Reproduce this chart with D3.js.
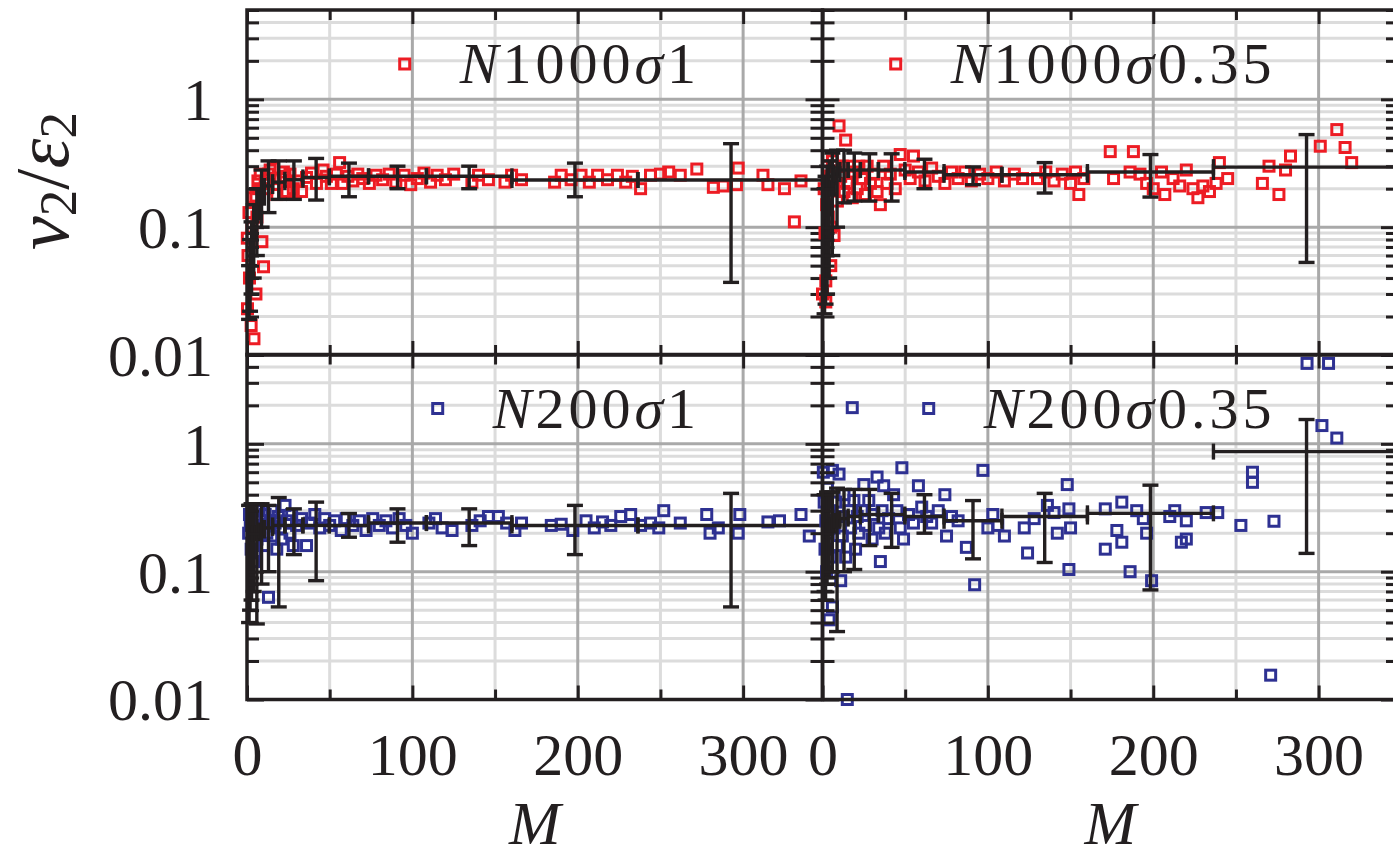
<!DOCTYPE html>
<html>
<head>
<meta charset="utf-8">
<script src="https://cdn.jsdelivr.net/npm/d3@7/dist/d3.min.js"></script>
<style>
  body { margin: 0; background: #fff; }
  svg { display: block; }
  text { font-family: "Liberation Serif", "Times New Roman", serif; fill: #231f20; }
</style>
</head>
<body>
<svg id="chart" width="1393" height="858"></svg>
<script>
// bin edges in M shared by all four panels
const binEdges = [1.0, 1.5, 2.2, 3.3, 4.8, 7.1, 10.5, 15.5, 22.9, 33.8, 49.8, 73.5, 108.5, 160.2, 236.4, 349];

// binned means and error limits, one value per bin
const meanN1000s1 = [0.03, 0.045, 0.065, 0.09, 0.13, 0.17, 0.21, 0.225, 0.235, 0.245, 0.25, 0.25, 0.25, 0.234, 0.234];
const loN1000s1   = [0.019, 0.022, 0.03, 0.04, 0.06, 0.1, 0.13, 0.165, 0.165, 0.163, 0.173, 0.2, 0.2, 0.173, 0.037];
const hiN1000s1   = [0.05, 0.08, 0.11, 0.15, 0.2, 0.28, 0.33, 0.33, 0.33, 0.345, 0.317, 0.3, 0.3, 0.317, 0.45];

const meanN1000s035 = [0.06, 0.08, 0.1, 0.14, 0.2, 0.26, 0.28, 0.28, 0.28, 0.28, 0.27, 0.257, 0.257, 0.27, 0.295];
const loN1000s035   = [0.021, 0.025, 0.03, 0.04, 0.06, 0.1, 0.155, 0.16, 0.16, 0.16, 0.2, 0.215, 0.185, 0.172, 0.053];
const hiN1000s035   = [0.2, 0.25, 0.3, 0.33, 0.38, 0.4, 0.4, 0.38, 0.375, 0.375, 0.34, 0.296, 0.32, 0.37, 0.53];

const meanN200s1 = [0.17, 0.18, 0.19, 0.2, 0.2, 0.21, 0.22, 0.23, 0.23, 0.23, 0.23, 0.24, 0.24, 0.23, 0.23];
const loN200s1   = [0.04, 0.05, 0.06, 0.07, 0.039, 0.08, 0.1, 0.053, 0.136, 0.085, 0.186, 0.17, 0.16, 0.136, 0.053];
const hiN200s1   = [0.33, 0.33, 0.34, 0.34, 0.34, 0.34, 0.33, 0.38, 0.31, 0.35, 0.285, 0.31, 0.31, 0.33, 0.41];

const meanN200s035 = [0.2, 0.2, 0.21, 0.22, 0.23, 0.25, 0.26, 0.27, 0.28, 0.28, 0.27, 0.25, 0.27, 0.286, 0.87];
const loN200s035   = [0.07, 0.06, 0.08, 0.09, 0.1, 0.034, 0.1, 0.104, 0.16, 0.155, 0.2, 0.126, 0.118, 0.072, 0.139];
const hiN200s035   = [0.4, 0.4, 0.42, 0.42, 0.42, 0.45, 0.44, 0.44, 0.44, 0.41, 0.4, 0.36, 0.41, 0.475, 1.55];

// individual events [M, v2/eps2]
const ptsN1000s1 = [
  [0.2,0.082],[0.3,0.023],[0.6,0.06],[1.2,0.13],[1.5,0.04],[2.5,0.017],[3,0.1],[3.6,0.17],[4.2,0.0134],[5.4,0.03],
  [5.4,0.175],[6,0.12],[6.6,0.23],[7,0.2],[8,0.26],[9,0.077],[10,0.049],[11,0.22],[12,0.2],[13,0.26],[14,0.28],
  [16,0.29],[17,0.24],[18,0.18],[20,0.24],[22,0.27],[23,0.25],[24,0.19],[26,0.26],[28,0.2],[30,0.23],[33,0.19],
  [36,0.245],[39,0.265],[42,0.22],[46,0.28],[48,0.25],[51,0.22],[54,0.26],[56,0.32],[58,0.22],[61,0.25],[64,0.23],
  [67,0.26],[70,0.24],[74,0.22],[78,0.255],[82,0.235],[86,0.26],[90,0.225],[95,0.255],[99,0.215],[103,0.24],
  [107,0.265],[111,0.225],[115,0.255],[120,0.235],[125,0.26],[136,0.225],[140,0.255],[146,0.235],[156,0.225],
  [160,0.255],[166,0.235],[186,0.225],[190,0.255],[196,0.235],[202,0.255],[207,0.225],[212,0.255],[218,0.235],
  [224,0.255],[229,0.225],[233,0.25],[238,0.2],[244,0.255],[250,0.26],[255,0.27],[262,0.255],[272,0.285],
  [282,0.205],[288,0.21],[297,0.29],[296,0.215],[312,0.255],[315,0.215],[325,0.2],[335,0.23],[331,0.11]
];
const ptsN1000s035 = [
  [0,0.03],[1,0.2],[1.5,0.09],[2,0.038],[2,0.026],[2.5,0.15],[3,0.3],[3.5,0.12],[4,0.25],[5,0.1],[5,0.05],
  [6,0.33],[7,0.086],[7,0.2],[8,0.3],[9,0.16],[10,0.62],[11,0.25],[12,0.3],[13,0.19],[14,0.48],[15,0.22],
  [16,0.3],[18,0.17],[19,0.27],[21,0.2],[22,0.3],[24,0.24],[26,0.18],[27,0.3],[29,0.22],[31,0.26],[33,0.19],
  [35,0.15],[37,0.3],[39,0.22],[41,0.26],[44,0.2],[47,0.37],[50,0.28],[53,0.24],[55,0.36],[58,0.27],[62,0.23],
  [66,0.29],[70,0.25],[74,0.22],[78,0.27],[82,0.24],[86,0.27],[90,0.23],[95,0.26],[100,0.24],[105,0.27],
  [110,0.23],[116,0.26],[121,0.24],[130,0.24],[135,0.27],[140,0.23],[145,0.26],[150,0.22],[153,0.27],[155,0.18],
  [158,0.24],[174,0.39],[176,0.24],[186,0.27],[188,0.39],[192,0.26],[196,0.22],[200,0.2],[205,0.27],[207,0.18],
  [212,0.24],[216,0.21],[220,0.28],[224,0.2],[227,0.17],[230,0.21],[234,0.19],[238,0.22],[240,0.32],[245,0.24],
  [266,0.22],[270,0.3],[276,0.18],[280,0.28],[283,0.36],[301,0.43],[311,0.58],[316,0.42],[320,0.32]
];
const ptsN200s1 = [
  [1,0.2],[1.5,0.28],[2,0.23],[2.5,0.15],[3,0.3],[3.6,0.23],[4,0.12],[5,0.14],[5,0.26],[6,0.18],[7,0.3],[8,0.21],
  [9,0.25],[10,0.16],[11,0.28],[12,0.2],[13,0.063],[14,0.25],[15,0.3],[16,0.19],[17,0.24],[18,0.15],[19,0.27],
  [20,0.22],[21,0.18],[23,0.33],[24,0.25],[26,0.2],[27,0.28],[28,0.16],[30,0.23],[33,0.26],[36,0.16],[38,0.24],
  [41,0.28],[44,0.22],[47,0.26],[50,0.23],[53,0.25],[57,0.21],[60,0.26],[64,0.23],[68,0.25],[72,0.21],[76,0.26],
  [80,0.23],[84,0.25],[88,0.22],[92,0.26],[96,0.23],[100,0.2],[110,0.24],[114,0.26],[118,0.22],[124,0.21],
  [136,0.23],[141,0.25],[146,0.27],[152,0.27],[157,0.24],[162,0.21],[166,0.24],[184,0.23],[190,0.235],[197,0.21],
  [205,0.25],[210,0.22],[215,0.245],[220,0.23],[226,0.27],[232,0.28],[238,0.23],[244,0.24],[249,0.22],[252,0.3],
  [262,0.24],[278,0.28],[280,0.2],[285,0.22],[298,0.28],[297,0.2],[315,0.245],[322,0.25],[335,0.28],[340,0.19]
];
const ptsN200s035 = [
  [0.5,0.6],[1,0.35],[1.5,0.15],[2,0.25],[2.5,0.1],[3,0.45],[3.5,0.2],[4,0.042],[4.5,0.3],[5,0.13],[6,0.053],
  [6,0.62],[7,0.22],[8,0.35],[9,0.16],[10,0.58],[11,0.085],[11,0.27],[12,0.19],[13,0.4],[14,0.13],[15,0.01],
  [16,0.3],[17,0.22],[18,1.92],[19,0.36],[20,0.15],[21,0.27],[22,0.2],[24,0.3],[25,0.48],[26,0.23],[28,0.36],
  [30,0.18],[31,0.28],[33,0.55],[34,0.22],[35,0.12],[36,0.3],[37,0.47],[38,0.2],[40,0.26],[43,0.4],[45,0.3],
  [47,0.22],[48,0.65],[49,0.18],[52,0.28],[55,0.24],[58,0.47],[60,0.32],[63,0.27],[66,0.24],[70,0.3],[74,0.4],
  [75,0.19],[78,0.27],[82,0.25],[87,0.155],[92,0.079],[97,0.62],[100,0.22],[103,0.28],[106,0.23],[110,0.19],
  [122,0.22],[124,0.14],[128,0.26],[136,0.33],[140,0.29],[142,0.2],[148,0.48],[149,0.31],[150,0.22],[149,0.104],
  [171,0.31],[171,0.15],[178,0.21],[181,0.35],[181,0.17],[186,0.1],[190,0.3],[194,0.26],[196,0.2],[199,0.085],
  [210,0.27],[213,0.3],[217,0.17],[220,0.25],[220,0.18],[232,0.29],[239,0.29],[253,0.23],[260,0.6],[260,0.5],
  [271,0.0155],[273,0.248],[293,4.26],[306,4.26],[302,1.39],[311,1.11]
];

// ticks
const xMajor = [0, 100, 200, 300];
const xMinor = [50, 150, 250];
const yMajor = [0.01, 0.1, 1];
const yMinor = [0.02, 0.03, 0.04, 0.05, 0.06, 0.07, 0.08, 0.09, 0.2, 0.3, 0.4, 0.5, 0.6, 0.7, 0.8, 0.9, 2, 3, 4, 5];
const yTickLabels = ['0.01', '0.1', '1'];

const red = '#ed1c24', blue = '#2e3192', ink = '#231f20';
const gridLight = '#dcdcdc', gridDark = '#a9a9a9';

const panels = [
  { col: 0, row: 0, label: [['N', true], ['1000', false], ['σ', true], ['1', false]], color: red,
    pts: ptsN1000s1, mean: meanN1000s1, lo: loN1000s1, hi: hiN1000s1 },
  { col: 1, row: 0, label: [['N', true], ['1000', false], ['σ', true], ['0.35', false]], color: red,
    pts: ptsN1000s035, mean: meanN1000s035, lo: loN1000s035, hi: hiN1000s035 },
  { col: 0, row: 1, label: [['N', true], ['200', false], ['σ', true], ['1', false]], color: blue,
    pts: ptsN200s1, mean: meanN200s1, lo: loN200s1, hi: hiN200s1 },
  { col: 1, row: 1, label: [['N', true], ['200', false], ['σ', true], ['0.35', false]], color: blue,
    pts: ptsN200s035, mean: meanN200s035, lo: loN200s035, hi: hiN200s035 }
];

const colLeft = [247, 822.5], panelW = 575.5;
const rowTop = [10, 354.5], panelH = 345;
const box = 10;

const svg = d3.select('#chart');

function styleTicks(sel) {
  sel.select('.domain').remove();
  sel.selectAll('.tick line').attr('stroke', ink).attr('stroke-width', 3);
}

panels.forEach(p => {
  const x0 = colLeft[p.col], y0 = rowTop[p.row];
  const x = d3.scaleLinear().domain([0, 348]).range([x0, x0 + panelW]);
  const y = d3.scaleLog().domain([0.01, 5]).range([y0 + panelH, y0]);
  const g = svg.append('g');

  // grid
  const grid = g.append('g').attr('stroke-width', 3);
  grid.selectAll('.vl').data(xMinor).join('line')
    .attr('x1', d => x(d)).attr('x2', d => x(d)).attr('y1', y0).attr('y2', y0 + panelH).attr('stroke', gridLight);
  grid.selectAll('.hl').data(yMinor.filter(d => d < 5)).join('line').attr('class', 'hl')
    .attr('x1', x0).attr('x2', x0 + panelW).attr('y1', d => y(d)).attr('y2', d => y(d)).attr('stroke', gridLight);
  grid.selectAll('.vd').data(xMajor.slice(1)).join('line').attr('class', 'vd')
    .attr('x1', d => x(d)).attr('x2', d => x(d)).attr('y1', y0).attr('y2', y0 + panelH).attr('stroke', gridDark);
  grid.selectAll('.hd').data(yMajor.slice(1)).join('line').attr('class', 'hd')
    .attr('x1', x0).attr('x2', x0 + panelW).attr('y1', d => y(d)).attr('y2', d => y(d)).attr('stroke', gridDark);

  // events
  g.append('g').selectAll('rect').data(p.pts).join('rect')
    .attr('x', d => x(d[0]) - box / 2).attr('y', d => y(d[1]) - box / 2)
    .attr('width', box).attr('height', box)
    .attr('fill', 'none').attr('stroke', p.color).attr('stroke-width', 3);

  // binned averages with x and y error bars
  const bins = p.mean.map((m, i) => ({
    xl: binEdges[i], xr: binEdges[i + 1], xc: (binEdges[i] + binEdges[i + 1]) / 2,
    m: m, lo: p.lo[i], hi: p.hi[i]
  }));
  const eb = g.append('g').attr('stroke', ink).attr('stroke-width', 3.4).attr('fill', 'none');
  const cap = 8;
  const bg = eb.selectAll('g').data(bins).join('g');
  bg.append('line').attr('x1', d => x(d.xl)).attr('x2', d => x(d.xr)).attr('y1', d => y(d.m)).attr('y2', d => y(d.m));
  bg.append('line').attr('x1', d => x(d.xl)).attr('x2', d => x(d.xl)).attr('y1', d => y(d.m) - cap).attr('y2', d => y(d.m) + cap);
  bg.append('line').attr('x1', d => x(d.xr)).attr('x2', d => x(d.xr)).attr('y1', d => y(d.m) - cap).attr('y2', d => y(d.m) + cap);
  bg.append('line').attr('x1', d => x(d.xc)).attr('x2', d => x(d.xc)).attr('y1', d => y(d.lo)).attr('y2', d => y(d.hi));
  bg.append('line').attr('x1', d => x(d.xc) - cap).attr('x2', d => x(d.xc) + cap).attr('y1', d => y(d.lo)).attr('y2', d => y(d.lo));
  bg.append('line').attr('x1', d => x(d.xc) - cap).attr('x2', d => x(d.xc) + cap).attr('y1', d => y(d.hi)).attr('y2', d => y(d.hi));

  // key: label right aligned, sample box to its left
  const lab = g.append('text').attr('x', x0 + 453).attr('y', y0 + 73)
    .attr('text-anchor', 'end').attr('font-size', 58).attr('letter-spacing', 4);
  p.label.forEach(([t, it]) => lab.append('tspan').text(t).attr('font-style', it ? 'italic' : 'normal'));
  const bb = lab.node().getBBox();
  g.append('rect').attr('x', bb.x - 54 - box / 2).attr('y', y0 + 54 - box / 2)
    .attr('width', box).attr('height', box)
    .attr('fill', 'none').attr('stroke', p.color).attr('stroke-width', 3);

  // tick marks on all four sides, pointing inward
  g.append('g').attr('transform', `translate(0,${y0 + panelH})`)
    .call(d3.axisBottom(x).tickValues(xMajor).tickSize(-14).tickFormat('')).call(styleTicks);
  g.append('g').attr('transform', `translate(0,${y0 + panelH})`)
    .call(d3.axisBottom(x).tickValues(xMinor).tickSize(-10).tickFormat('')).call(styleTicks);
  g.append('g').attr('transform', `translate(0,${y0})`)
    .call(d3.axisTop(x).tickValues(xMajor).tickSize(-14).tickFormat('')).call(styleTicks);
  g.append('g').attr('transform', `translate(0,${y0})`)
    .call(d3.axisTop(x).tickValues(xMinor).tickSize(-10).tickFormat('')).call(styleTicks);
  g.append('g').attr('transform', `translate(${x0},0)`)
    .call(d3.axisLeft(y).tickValues(yMajor).tickSize(-17).tickFormat('')).call(styleTicks);
  g.append('g').attr('transform', `translate(${x0},0)`)
    .call(d3.axisLeft(y).tickValues(yMinor).tickSize(-12).tickFormat('')).call(styleTicks);
  g.append('g').attr('transform', `translate(${x0 + panelW},0)`)
    .call(d3.axisRight(y).tickValues(yMajor).tickSize(-17).tickFormat('')).call(styleTicks);
  g.append('g').attr('transform', `translate(${x0 + panelW},0)`)
    .call(d3.axisRight(y).tickValues(yMinor).tickSize(-12).tickFormat('')).call(styleTicks);

  // frame
  g.append('rect').attr('x', x0).attr('y', y0).attr('width', panelW).attr('height', panelH)
    .attr('fill', 'none').attr('stroke', ink).attr('stroke-width', 3.5);

  // tick labels on outer panels
  if (p.row === 1) {
    const ax = g.append('g').attr('transform', `translate(0,${y0 + panelH})`)
      .call(d3.axisBottom(x).tickValues(xMajor).tickSize(0).tickPadding(33).tickFormat(d3.format('d')));
    ax.select('.domain').remove();
    ax.attr('font-family', null).attr('font-size', null);
    ax.selectAll('text').attr('font-size', 60).attr('fill', ink);

    g.append('text').attr('x', x0 + panelW / 2).attr('y', 844)
      .attr('text-anchor', 'middle').attr('font-size', 62).attr('font-style', 'italic').text('M');
  }
  if (p.col === 0) {
    const ay = g.append('g').attr('transform', `translate(${x0},0)`)
      .call(d3.axisLeft(y).tickValues(yMajor).tickSize(0).tickPadding(34).tickFormat((d, i) => yTickLabels[i]));
    ay.select('.domain').remove();
    ay.attr('font-family', null).attr('font-size', null);
    ay.selectAll('text').attr('font-size', 60).attr('fill', ink).attr('dy', '0.34em');
  }
});

// y axis title  v2/eps2
const yt = svg.append('text').attr('transform', 'translate(68,181) rotate(-90)')
  .attr('text-anchor', 'middle').attr('font-size', 76);
yt.append('tspan').attr('font-style', 'italic').text('v');
yt.append('tspan').attr('font-size', 53).attr('dy', 8).text('2');
yt.append('tspan').attr('dy', -8).text('/');
yt.append('tspan').attr('font-style', 'italic').text('ε');
yt.append('tspan').attr('font-size', 53).attr('dy', 8).text('2');
</script>
</body>
</html>
